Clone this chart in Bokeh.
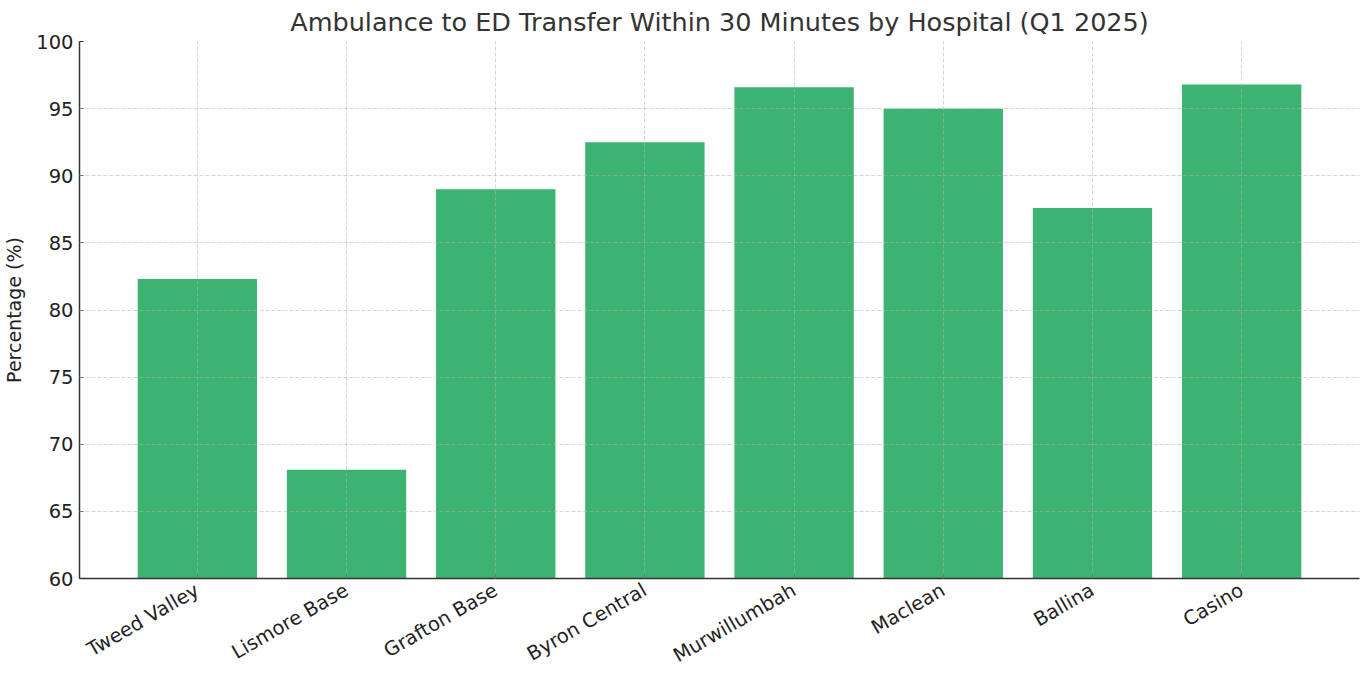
import math
from bokeh.plotting import figure
from bokeh.models import Range1d, FixedTicker, ColumnDataSource
from bokeh.embed import file_html
from bokeh.resources import INLINE

hospitals = ["Tweed Valley", "Lismore Base", "Grafton Base", "Byron Central",
             "Murwillumbah", "Maclean", "Ballina", "Casino"]
percentages = [82.3, 68.1, 89.0, 92.5, 96.6, 95.0, 87.6, 96.8]
y_ticks = [60, 65, 70, 75, 80, 85, 90, 95, 100]

FONT = "DejaVu Sans"
positions = list(range(len(hospitals)))
src = ColumnDataSource(dict(x=positions, top=percentages))

p = figure(width=1355, height=664, output_backend="svg", toolbar_location=None,
           x_range=Range1d(-0.79, len(hospitals) - 1 + 0.79),
           y_range=Range1d(60, 100),
           frame_width=1280, frame_height=537,
           min_border_left=10, min_border_right=3, min_border_top=33, min_border_bottom=10,
           title="Ambulance to ED Transfer Within 30 Minutes by Hospital (Q1 2025)")

p.vbar(x="x", top="top", bottom=60, width=0.8, source=src,
       fill_color="#3CB371", line_color=None)

p.title.align = "center"
p.title.text_font = FONT
p.title.text_font_size = "25.5px"
p.title.text_font_style = "normal"
p.title.text_color = "#333333"
p.title.standoff = 9

p.outline_line_color = None
p.background_fill_color = "white"
p.border_fill_color = "white"

for ax in (p.xaxis[0], p.yaxis[0]):
    ax.axis_line_color = "#333333"
    ax.axis_line_width = 1.5
    ax.major_tick_in = 4
    ax.major_tick_out = 0
    ax.major_tick_line_color = "#333333"
    ax.minor_tick_line_color = None
    ax.major_label_text_font = FONT
    ax.major_label_text_font_size = "19.5px"
    ax.major_label_text_color = "#222222"

p.xaxis.ticker = FixedTicker(ticks=positions)
p.xaxis.major_label_overrides = {i: h for i, h in enumerate(hospitals)}
p.xaxis.major_label_orientation = math.pi / 6
p.xaxis.major_label_standoff = 10

p.yaxis.ticker = FixedTicker(ticks=y_ticks)
p.yaxis.major_label_standoff = 6
p.yaxis.axis_label = "Percentage (%)"
p.yaxis.axis_label_text_font = FONT
p.yaxis.axis_label_text_font_size = "19px"
p.yaxis.axis_label_text_font_style = "normal"
p.yaxis.axis_label_text_color = "#222222"
p.yaxis.axis_label_standoff = 8

for g in (p.xgrid[0], p.ygrid[0]):
    g.grid_line_color = "#b0b0b0"
    g.grid_line_alpha = 0.6
    g.grid_line_dash = "4 2"
    g.grid_line_width = 0.9
    g.level = "overlay"

open("out.html", "w").write(file_html(p, INLINE))
